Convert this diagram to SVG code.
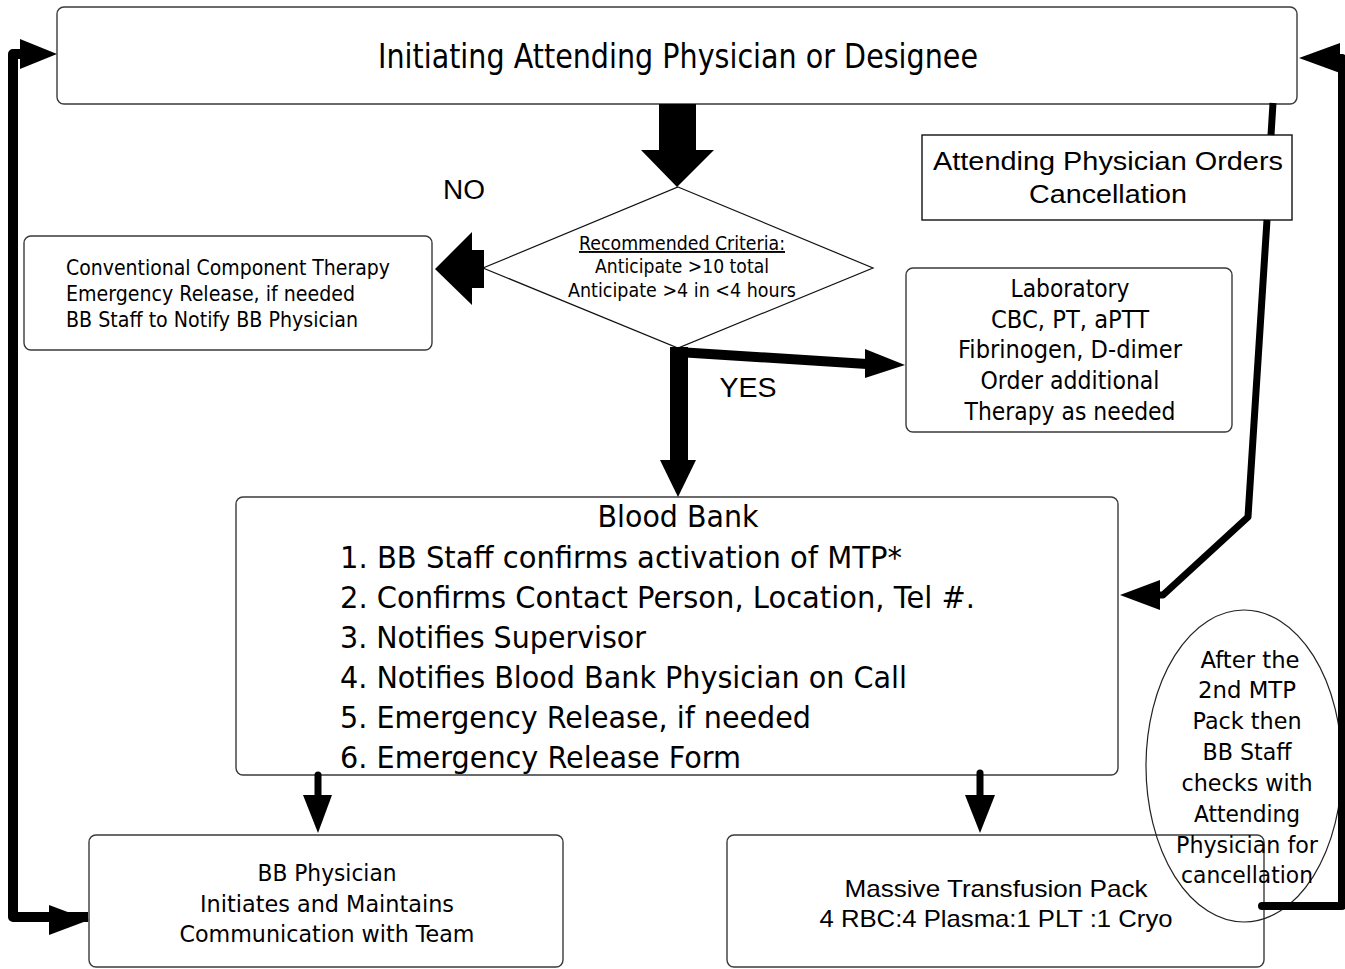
<svg xmlns="http://www.w3.org/2000/svg" width="1345" height="969" viewBox="0 0 1345 969">
<style>
.box{fill:#fff;stroke:#3a3a3a;stroke-width:1.4}
.sq{fill:#fff;stroke:#111;stroke-width:1.4}
.t{font-family:"DejaVu Sans",sans-serif;fill:#000}
.a{font-family:"Liberation Sans",Arial,sans-serif;fill:#000}
.ln{fill:none;stroke:#000;stroke-linejoin:round}
.hd{fill:#000;stroke:none}
</style>
<rect width="1345" height="969" fill="#fff"/>
<g id="initiating">
<rect class="box" x="57" y="7" width="1240" height="97" rx="7"/>
<text class="t" x="678" y="68" font-size="34" text-anchor="middle" textLength="600" lengthAdjust="spacingAndGlyphs">Initiating Attending Physician or Designee</text>
</g>
<g id="cancellation">
<rect class="sq" x="922" y="135" width="370" height="85"/>
<text class="a" x="1108" y="170" font-size="25" text-anchor="middle" textLength="350" lengthAdjust="spacingAndGlyphs">Attending Physician Orders</text>
<text class="a" x="1108" y="203" font-size="25" text-anchor="middle" textLength="158" lengthAdjust="spacingAndGlyphs">Cancellation</text>
</g>
<g id="criteria">
<polygon points="678,187 873,268 678,348 483,268" fill="#fff" stroke="#111" stroke-width="1.2"/>
<text class="t" x="682" y="250" font-size="19" text-anchor="middle" text-decoration="underline" textLength="206" lengthAdjust="spacingAndGlyphs">Recommended Criteria:</text>
<text class="t" x="682" y="273" font-size="19" text-anchor="middle" textLength="174" lengthAdjust="spacingAndGlyphs">Anticipate &gt;10 total</text>
<text class="t" x="682" y="297" font-size="19" text-anchor="middle" textLength="228" lengthAdjust="spacingAndGlyphs">Anticipate &gt;4 in &lt;4 hours</text>
</g>
<g id="conventional">
<rect class="box" x="24" y="236" width="408" height="114" rx="7"/>
<text class="t" x="66" y="275" font-size="21" textLength="324" lengthAdjust="spacingAndGlyphs">Conventional Component Therapy</text>
<text class="t" x="66" y="301" font-size="21" textLength="289" lengthAdjust="spacingAndGlyphs">Emergency Release, if needed</text>
<text class="t" x="66" y="327" font-size="21" textLength="292" lengthAdjust="spacingAndGlyphs">BB Staff to Notify BB Physician</text>
</g>
<g id="laboratory">
<rect class="box" x="906" y="268" width="326" height="164" rx="7"/>
<text class="t" x="1070" y="297" font-size="24" text-anchor="middle" textLength="119" lengthAdjust="spacingAndGlyphs">Laboratory</text>
<text class="t" x="1070" y="328" font-size="24" text-anchor="middle" textLength="158" lengthAdjust="spacingAndGlyphs">CBC, PT, aPTT</text>
<text class="t" x="1070" y="358" font-size="24" text-anchor="middle" textLength="224" lengthAdjust="spacingAndGlyphs">Fibrinogen, D-dimer</text>
<text class="t" x="1070" y="389" font-size="24" text-anchor="middle" textLength="179" lengthAdjust="spacingAndGlyphs">Order additional</text>
<text class="t" x="1070" y="420" font-size="24" text-anchor="middle" textLength="211" lengthAdjust="spacingAndGlyphs">Therapy as needed</text>
</g>
<g id="bloodbank">
<rect class="box" x="236" y="497" width="882" height="278" rx="7"/>
<text class="t" x="678" y="527" font-size="31" text-anchor="middle" textLength="161" lengthAdjust="spacingAndGlyphs">Blood Bank</text>
<text class="t" x="340" y="568" font-size="31" textLength="562" lengthAdjust="spacingAndGlyphs">1. BB Staff confirms activation of MTP*</text>
<text class="t" x="340" y="608" font-size="31" textLength="635" lengthAdjust="spacingAndGlyphs">2. Confirms Contact Person, Location, Tel #.</text>
<text class="t" x="340" y="648" font-size="31" textLength="306" lengthAdjust="spacingAndGlyphs">3. Notifies Supervisor</text>
<text class="t" x="340" y="688" font-size="31" textLength="567" lengthAdjust="spacingAndGlyphs">4. Notifies Blood Bank Physician on Call</text>
<text class="t" x="340" y="728" font-size="31" textLength="471" lengthAdjust="spacingAndGlyphs">5. Emergency Release, if needed</text>
<text class="t" x="340" y="768" font-size="31" textLength="401" lengthAdjust="spacingAndGlyphs">6. Emergency Release Form</text>
</g>
<g id="bbphysician">
<rect class="box" x="89" y="835" width="474" height="132" rx="7"/>
<text class="t" x="327" y="881" font-size="23" text-anchor="middle" textLength="139" lengthAdjust="spacingAndGlyphs">BB Physician</text>
<text class="t" x="327" y="912" font-size="23" text-anchor="middle" textLength="254" lengthAdjust="spacingAndGlyphs">Initiates and Maintains</text>
<text class="t" x="327" y="942" font-size="23" text-anchor="middle" textLength="295" lengthAdjust="spacingAndGlyphs">Communication with Team</text>
</g>
<g id="mtp">
<rect class="box" x="727" y="835" width="537" height="132" rx="7"/>
<text class="a" x="996" y="897" font-size="24" text-anchor="middle" textLength="303" lengthAdjust="spacingAndGlyphs">Massive Transfusion Pack</text>
<text class="a" x="996" y="927" font-size="24" text-anchor="middle" textLength="353" lengthAdjust="spacingAndGlyphs">4 RBC:4 Plasma:1 PLT :1 Cryo</text>
</g>
<g id="aftersecond">
<ellipse cx="1244" cy="766" rx="98" ry="156" fill="none" stroke="#222" stroke-width="1.2"/>
<text class="t" x="1250" y="668" font-size="23" text-anchor="middle" textLength="99" lengthAdjust="spacingAndGlyphs">After the</text>
<text class="t" x="1247" y="698" font-size="23" text-anchor="middle" textLength="98" lengthAdjust="spacingAndGlyphs">2nd MTP</text>
<text class="t" x="1247" y="729" font-size="23" text-anchor="middle" textLength="109" lengthAdjust="spacingAndGlyphs">Pack then</text>
<text class="t" x="1247" y="760" font-size="23" text-anchor="middle" textLength="89" lengthAdjust="spacingAndGlyphs">BB Staff</text>
<text class="t" x="1247" y="791" font-size="23" text-anchor="middle" textLength="131" lengthAdjust="spacingAndGlyphs">checks with</text>
<text class="t" x="1247" y="822" font-size="23" text-anchor="middle" textLength="106" lengthAdjust="spacingAndGlyphs">Attending</text>
<text class="t" x="1247" y="853" font-size="23" text-anchor="middle" textLength="142" lengthAdjust="spacingAndGlyphs">Physician for</text>
<text class="t" x="1247" y="883" font-size="23" text-anchor="middle" textLength="132" lengthAdjust="spacingAndGlyphs">cancellation</text>
</g>
<g id="connectors">
<polygon class="hd" points="659,104 696,104 696,150 714,150 677,187 641,150 659,150"/>
<polygon class="hd" points="435,269 472,232 472,250 484,250 484,288 472,288 472,305"/>
<text class="a" x="464" y="199" font-size="27" text-anchor="middle" textLength="42" lengthAdjust="spacingAndGlyphs">NO</text>
<rect class="hd" x="670" y="347" width="18" height="114"/>
<polygon class="hd" points="660,460 696,460 678,497"/>
<path class="ln" d="M678,352 L867,364" stroke-width="10"/>
<polygon class="hd" points="865,349 905,365 865,378"/>
<text class="a" x="748" y="397" font-size="27" text-anchor="middle" textLength="57" lengthAdjust="spacingAndGlyphs">YES</text>
<path class="ln" d="M318,775 L318,797" stroke-width="7" stroke-linecap="round"/>
<polygon class="hd" points="303,795 332,795 318,833"/>
<path class="ln" d="M980,773 L980,797" stroke-width="7" stroke-linecap="round"/>
<polygon class="hd" points="965,795 995,795 980,833"/>
<path class="ln" d="M1273,103 L1271,135" stroke-width="7"/>
<path class="ln" d="M1267,220 L1248,517 L1163,595 L1156,595" stroke-width="7"/>
<polygon class="hd" points="1120,595 1160,580 1160,610"/>
<path class="ln" d="M88,917 L13,917 L13,54 L25,54" stroke-width="10"/>
<polygon class="hd" points="57,54 20,39 20,69"/>
<polygon class="hd" points="89,920 49,905 49,935"/>
<path class="ln" d="M1262,906 L1342,906 L1342,58 L1332,58" stroke-width="8" stroke-linecap="round"/>
<polygon class="hd" points="1299,58 1340,43 1340,73"/>
</g>
</svg>
